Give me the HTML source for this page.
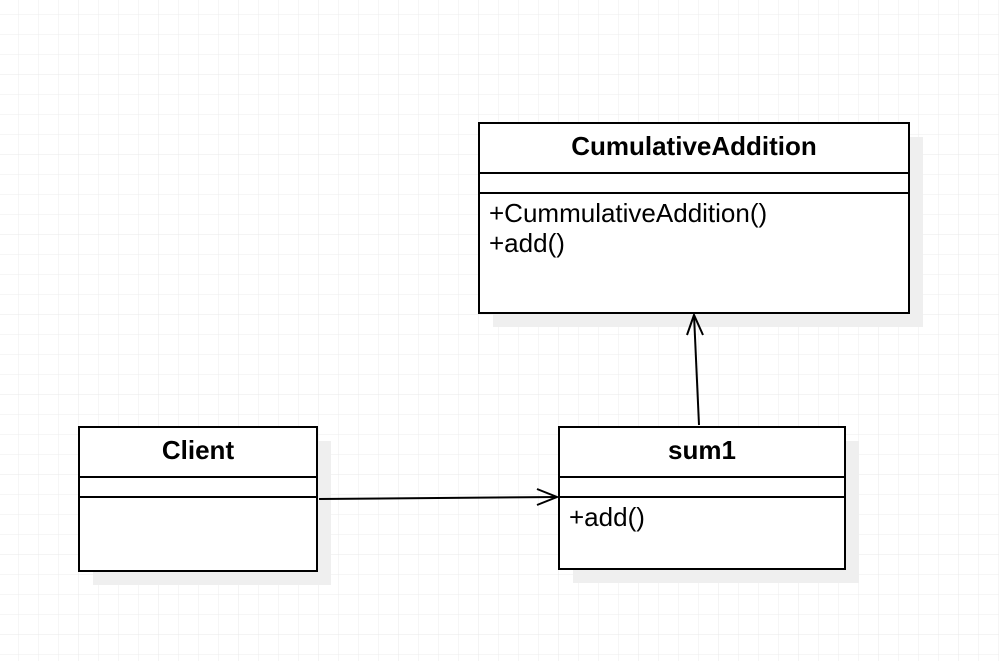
<!DOCTYPE html>
<html><head><meta charset="utf-8"><style>
html,body{margin:0;padding:0;background:#fff;}
svg{display:block;font-family:"Liberation Sans",sans-serif;}
</style></head><body>
<svg width="999" height="661" viewBox="0 0 999 661" xmlns="http://www.w3.org/2000/svg">
<defs>
<pattern id="g" width="20" height="20" patternUnits="userSpaceOnUse" x="-1" y="-5">
<path d="M20 0V20M0 20H20" stroke="#ececec" stroke-width="1" fill="none"/>
</pattern>
<pattern id="G" width="80" height="80" patternUnits="userSpaceOnUse" x="-1" y="-5">
<path d="M80 0V80M0 80H80" stroke="#e8e8e8" stroke-width="1" fill="none"/>
</pattern>
</defs>
<rect width="999" height="661" fill="url(#g)"/>
<rect width="999" height="661" fill="url(#G)"/>
<rect x="493" y="137" width="430" height="190" fill="#efefef"/>
<rect x="93" y="441" width="238" height="144" fill="#efefef"/>
<rect x="573" y="441" width="286" height="142" fill="#efefef"/>
<g fill="#fff" stroke="#000" stroke-width="2">
<rect x="479" y="123" width="430" height="190"/>
<rect x="79" y="427" width="238" height="144"/>
<rect x="559" y="427" width="286" height="142"/>
</g>
<g stroke="#000" stroke-width="2">
<line x1="479" y1="173" x2="909" y2="173"/>
<line x1="479" y1="193" x2="909" y2="193"/>
<line x1="79" y1="477" x2="317" y2="477"/>
<line x1="79" y1="497" x2="317" y2="497"/>
<line x1="559" y1="477" x2="845" y2="477"/>
<line x1="559" y1="497" x2="845" y2="497"/>
</g>
<g font-weight="bold" font-size="26" text-anchor="middle" fill="#000">
<text x="694" y="155">CumulativeAddition</text>
<text x="198" y="459">Client</text>
<text x="702" y="459">sum1</text>
</g>
<g font-size="26" fill="#000">
<text x="489" y="222">+CummulativeAddition()</text>
<text x="489" y="252">+add()</text>
<text x="569" y="526">+add()</text>
</g>
<g stroke="#000" stroke-width="2" fill="none">
<line x1="319" y1="499" x2="557" y2="497"/>
<polyline points="537,489 557,497 537,505"/>
<line x1="699" y1="425" x2="694" y2="315"/>
<polyline points="687,335 694,315 703,335"/>
</g>
</svg>
</body></html>
